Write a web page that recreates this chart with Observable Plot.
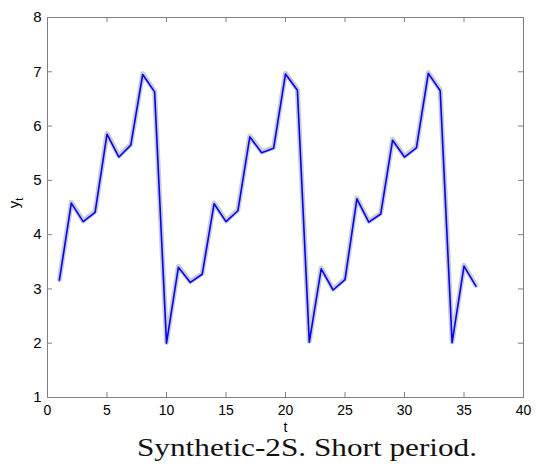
<!DOCTYPE html>
<html>
<head>
<meta charset="utf-8">
<script src="https://cdn.jsdelivr.net/npm/d3@7"></script>
<script src="https://cdn.jsdelivr.net/npm/@observablehq/plot@0.6"></script>
<style>
  html, body { margin: 0; padding: 0; background: #fff; }
  #wrap { position: relative; width: 540px; height: 468px; overflow: hidden; }
  #caption { position: absolute; left: 137px; top: 438px; transform-origin: 0 0;
    font-family: "Liberation Serif", "DejaVu Serif", serif; font-size: 26px; line-height: 20px; color: #111; white-space: nowrap; }
</style>
</head>
<body>
<div id="wrap">
  <div id="chart"></div>
  <span id="caption">Synthetic-2S. Short period.</span>
</div>
<script>
const t = [1,2,3,4,5,6,7,8,9,10,11,12,13,14,15,16,17,18,19,20,21,22,23,24,25,26,27,28,29,30,31,32,33,34,35,36];
const yt = [3.16,4.58,4.24,4.41,5.85,5.43,5.65,6.95,6.63,2.00,3.40,3.12,3.27,4.57,4.24,4.44,5.80,5.51,5.59,6.96,6.66,2.02,3.37,2.98,3.17,4.66,4.23,4.38,5.74,5.43,5.60,6.97,6.65,2.01,3.42,3.05];
const xTicks = [0,5,10,15,20,25,30,35,40];
const yTicks = [1,2,3,4,5,6,7,8];

const W = 540, H = 434;
const mL = 47, mR = 17, mT = 17, mB = 37;
const pw = W - mL - mR, ph = H - mT - mB;
const data = t.map((d, i) => ({t: d, y: yt[i]}));
const font = "Liberation Sans, Arial, sans-serif";

const chart = Plot.plot({
  width: W, height: H,
  marginLeft: mL, marginRight: mR, marginTop: mT, marginBottom: mB,
  style: {fontFamily: font, fontSize: "15px", color: "#000", background: "#fff"},
  x: {domain: [0, 40]},
  y: {domain: [1, 8]},
  marks: [
    Plot.frame({stroke: "#808080", strokeWidth: 1}),
    Plot.tickX(xTicks, {x: d => d, insetTop: ph - 5, stroke: "#808080"}),
    Plot.tickX(xTicks, {x: d => d, insetBottom: ph - 5, stroke: "#808080"}),
    Plot.tickY(yTicks, {y: d => d, insetRight: pw - 5, stroke: "#808080"}),
    Plot.tickY(yTicks, {y: d => d, insetLeft: pw - 5, stroke: "#808080"}),
    Plot.axisX(xTicks, {tickSize: 0, tickPadding: 8, fontSize: 14, tickFormat: "d", label: "t", labelAnchor: "center", labelArrow: "none", labelOffset: 34}),
    Plot.axisY(yTicks, {tickSize: 0, tickPadding: 6, fontSize: 15, tickFormat: "d", label: null}),
    Plot.line(data, {x: "t", y: "y", stroke: "#cccccc", strokeWidth: 5, dy: -0.8}),
    Plot.line(data, {x: "t", y: "y", stroke: "#0000ff", strokeWidth: 1.6})
  ]
});

const svg = d3.select(chart);
const lab = svg.append("text")
  .attr("transform", `translate(19,${mT + ph / 2 - 4}) rotate(-90)`)
  .attr("text-anchor", "middle")
  .attr("font-family", font)
  .attr("font-size", 15)
  .attr("fill", "#000");
lab.append("tspan").text("y");
lab.append("tspan").attr("font-size", 11).attr("dy", 4).text("t");

document.getElementById("chart").appendChild(chart);

const cap = document.getElementById("caption");
const w = cap.getBoundingClientRect().width;
cap.style.transform = `scaleX(${340 / w})`;
</script>
</body>
</html>
